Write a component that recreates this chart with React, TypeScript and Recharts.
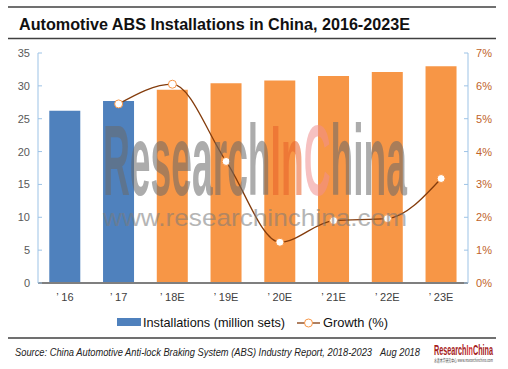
import { ComposedChart, Bar, Line, XAxis, YAxis, Cell } from 'recharts';

const years = ['’ 16', '’ 17', '’ 18E', '’ 19E', '’ 20E', '’ 21E', '’ 22E', '’ 23E'];
const installations = [26.2, 27.7, 29.4, 30.4, 30.8, 31.5, 32.1, 33.0];
const growth = [null, 5.45, 6.05, 3.7, 1.24, 1.9, 1.96, 3.18];
const leftTicks = [0, 5, 10, 15, 20, 25, 30, 35];
const rightTicks = [0, 1, 2, 3, 4, 5, 6, 7];

const BLUE = '#4F81BD';
const ORANGE = '#F79646';
const LINE = '#843C0C';
const FONT = 'Liberation Sans, Arial, sans-serif';

const data = years.map((y, i) => ({
  year: y,
  installations: installations[i],
  growth: growth[i],
}));

function YTick(props: any) {
  const { x, y, payload, side, fill, suffix } = props;
  const margin = 8;
  const axisX = side === 'left' ? x + margin : x - margin;
  const x2 = side === 'left' ? axisX + 4 : axisX - 4;
  return (
    <g>
      <line x1={axisX} y1={y} x2={x2} y2={y} stroke="#9DC3E6" />
      <text
        x={x}
        y={y}
        dy={4}
        textAnchor={side === 'left' ? 'end' : 'start'}
        fontSize={11}
        fontFamily={FONT}
        fill={fill}
      >
        {payload.value}
        {suffix}
      </text>
    </g>
  );
}

export default function App() {
  return (
    <div style={{ position: 'absolute', left: 0, top: 0, width: 508, height: 369, background: '#fff' }}>
      <ComposedChart
        width={508}
        height={369}
        data={data}
        margin={{ top: 53, right: 0, bottom: 56, left: 0 }}
        barCategoryGap="21%"
      >
        <XAxis
          dataKey="year"
          height={30}
          axisLine={{ stroke: '#7F7F7F', strokeWidth: 2 }}
          tickLine={false}
          tickMargin={4}
          tick={{ fontSize: 11, fontFamily: FONT, fill: '#404040' }}
        />
        <YAxis
          yAxisId="left"
          width={38}
          domain={[0, 35]}
          ticks={leftTicks}
          axisLine={{ stroke: '#9DC3E6' }}
          tickLine={false}
          tickSize={0}
          tickMargin={8}
          tick={<YTick side="left" fill="#595959" suffix="" />}
        />
        <YAxis
          yAxisId="right"
          orientation="right"
          width={40}
          domain={[0, 7]}
          ticks={rightTicks}
          axisLine={{ stroke: '#9DC3E6' }}
          tickLine={false}
          tickSize={0}
          tickMargin={8}
          tick={<YTick side="right" fill="#C0632A" suffix="%" />}
        />
        <Bar yAxisId="left" dataKey="installations" isAnimationActive={false}>
          {data.map((_d, i) => (
            <Cell key={i} fill={i < 2 ? BLUE : ORANGE} />
          ))}
        </Bar>
        <Line
          yAxisId="right"
          dataKey="growth"
          type="monotone"
          stroke={LINE}
          strokeWidth={1.3}
          dot={{ r: 4, fill: '#fff', stroke: ORANGE, strokeWidth: 1 }}
          isAnimationActive={false}
        />
      </ComposedChart>

      <svg
        width={508}
        height={369}
        style={{ position: 'absolute', left: 0, top: 0, pointerEvents: 'none' }}
      >
        <line x1={8} y1={7} x2={496} y2={7} stroke="#404040" strokeWidth={1.5} />
        <text x={19} y={30} fontSize={17} fontWeight="bold" fontFamily={FONT} fill="#111" textLength={391} lengthAdjust="spacingAndGlyphs">
          Automotive ABS Installations in China, 2016-2023E
        </text>
        <line x1={8} y1={38.5} x2={496} y2={38.5} stroke="#404040" strokeWidth={1.5} />

        <g opacity={0.55}>
          <text x={103} y={195} fontSize={100} fontWeight="bold" fontFamily={FONT} textLength={304} lengthAdjust="spacingAndGlyphs">
            <tspan fill="#6A6A6A">Research</tspan>
            <tspan fill="#E8602A">In</tspan>
            <tspan fill="#F09090">C</tspan>
            <tspan fill="#6A6A6A">hina</tspan>
          </text>
          <text x={103} y={226} fontSize={24} fontFamily={FONT} fill="#7A7A7A" textLength={304} lengthAdjust="spacingAndGlyphs">
            www.researchinchina.com
          </text>
        </g>

        <rect x={117} y={318} width={24} height={8} fill={BLUE} />
        <text x={143} y={327} fontSize={13} fontFamily={FONT} fill="#111" textLength={142} lengthAdjust="spacingAndGlyphs">
          Installations (million sets)
        </text>
        <line x1={297} y1={323} x2={320} y2={323} stroke={LINE} strokeWidth={1.3} />
        <circle cx={308.5} cy={323} r={4} fill="#fff" stroke={ORANGE} />
        <text x={323} y={327} fontSize={13} fontFamily={FONT} fill="#111" textLength={65} lengthAdjust="spacingAndGlyphs">
          Growth (%)
        </text>

        <line x1={8} y1={338} x2={496} y2={338} stroke="#404040" strokeWidth={1.5} />
        <text x={15} y={356} fontSize={10} fontStyle="italic" fontFamily={FONT} fill="#222" textLength={357} lengthAdjust="spacingAndGlyphs">
          Source: China Automotive Anti-lock Braking System (ABS) Industry Report, 2018-2023
        </text>
        <text x={380} y={356} fontSize={10} fontStyle="italic" fontFamily={FONT} fill="#222" textLength={40} lengthAdjust="spacingAndGlyphs">
          Aug 2018
        </text>
        <text x={434} y={355} fontSize={14} fontWeight="bold" fontFamily={FONT} textLength={59} lengthAdjust="spacingAndGlyphs">
          <tspan fill="#A51C1C">Research</tspan>
          <tspan fill="#D03030">In</tspan>
          <tspan fill="#A51C1C">China</tspan>
        </text>
        <text x={434} y={362} fontSize={5} fontFamily="Noto Sans CJK SC, sans-serif" fill="#444" textLength={59} lengthAdjust="spacingAndGlyphs">
          水清木华研究中心 www.researchinchina.com
        </text>
      </svg>
    </div>
  );
}
